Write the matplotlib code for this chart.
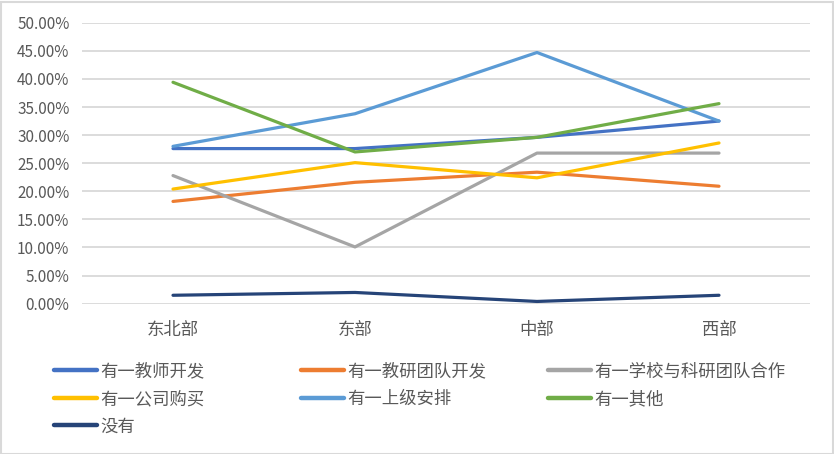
import matplotlib
matplotlib.use("Agg")
import matplotlib.pyplot as plt
from matplotlib.patches import Rectangle
from matplotlib.ticker import FuncFormatter, MultipleLocator

plt.rcParams['font.family'] = ['Noto Sans CJK SC', 'DejaVu Sans']

categories = ["东北部", "东部", "中部", "西部"]
series_names = ["有一教师开发", "有一教研团队开发", "有一学校与科研团队合作",
                "有一公司购买", "有一上级安排", "有一其他", "没有"]
teacher_dev = [0.276, 0.276, 0.296, 0.325]
team_dev = [0.182, 0.216, 0.234, 0.209]
school_research = [0.228, 0.101, 0.268, 0.268]
company_buy = [0.204, 0.251, 0.224, 0.286]
superior = [0.280, 0.338, 0.447, 0.325]
other = [0.394, 0.270, 0.296, 0.356]
none_ = [0.015, 0.020, 0.004, 0.015]
all_values = [teacher_dev, team_dev, school_research, company_buy, superior, other, none_]
colors = ["#4472C4", "#ED7D31", "#A5A5A5", "#FFC000", "#5B9BD5", "#70AD47", "#264478"]

W, H = 834, 454
fig = plt.figure(figsize=(W / 100, H / 100), dpi=100)
ax = fig.add_axes([82 / W, 1 - 303.7 / H, (810 - 82) / W, (303.7 - 22.7) / H])

x = list(range(len(categories)))
handles = []
for vals, c, name in zip(all_values, colors, series_names):
    ln, = ax.plot(x, vals, color=c, lw=2.3, solid_capstyle='round',
                  solid_joinstyle='round', label=name)
    handles.append(ln)

ax.set_xlim(-0.5, len(categories) - 0.5)
ax.set_ylim(0, 0.5)
ax.yaxis.set_major_locator(MultipleLocator(0.05))
ax.yaxis.set_major_formatter(FuncFormatter(lambda v, p: f"{v*100:.2f}%"))
ax.set_xticks(x)
ax.set_xticklabels(categories)
ax.grid(axis='y', color='#D9D9D9', lw=1.3)
ax.set_axisbelow(True)
for s in ax.spines.values():
    s.set_visible(False)
ax.tick_params(axis='both', length=0, colors='#595959')
ax.tick_params(axis='y', pad=9, labelsize=11)
ax.tick_params(axis='x', pad=12.5, labelsize=12.5)

# legend in three columns
col_x = [53 / W, 300 / W, 547 / W]
col_idx = [[0, 3, 6], [1, 4], [2, 5]]
for cx, idxs in zip(col_x, col_idx):
    leg = fig.legend([handles[i] for i in idxs], [series_names[i] for i in idxs],
                     loc='upper left', bbox_to_anchor=(cx - 0.0024, 1 - 359 / H),
                     frameon=False, fontsize=12.5, handlelength=2.45, handletextpad=0.2,
                     labelspacing=0.55, borderaxespad=0, borderpad=0.2)
    for t in leg.get_texts():
        t.set_color('#595959')
    for lh in leg.get_lines():
        lh.set_linewidth(3.2)
        lh.set_solid_capstyle('round')

fig.patches.append(Rectangle((0.5 / W, 0.5 / H), 1 - 2 / W, 1 - 2 / H,
                             transform=fig.transFigure, fill=False,
                             edgecolor='#D9D9D9', lw=1.5))

fig.savefig("out.png", dpi=100)
